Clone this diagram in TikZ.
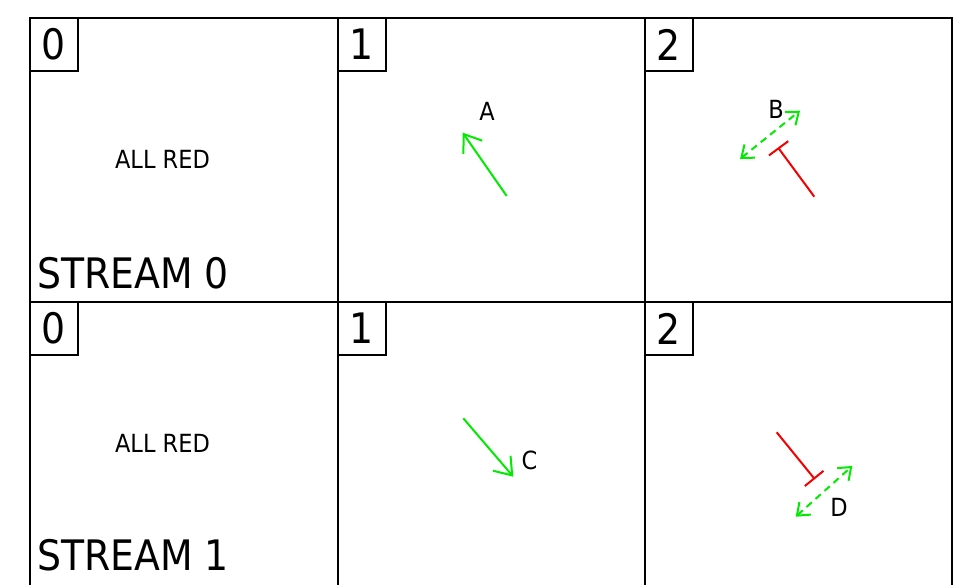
\documentclass[tikz,border=0pt]{standalone}
\usepackage{fontspec}
\setmainfont{DejaVu Sans}[FakeStretch=0.9]
\usetikzlibrary{arrows.meta}
\definecolor{sigG}{RGB}{0,235,0}
\definecolor{sigR}{RGB}{245,0,0}
\begin{document}
\begin{tikzpicture}[x=1pt,y=-1pt,
  cellbox/.style={draw,line width=2.3pt,minimum height=284pt,anchor=north west,inner sep=0pt,outer sep=0pt},
  numbox/.style={draw,line width=1.8pt,minimum width=48pt,minimum height=53pt,anchor=north west,inner sep=0pt,outer sep=0pt,font=\fontsize{42}{42}\selectfont},
  streamlbl/.style={anchor=base west,inner sep=0pt,font=\fontsize{42}{42}\selectfont},
  allred/.style={inner sep=0pt,font=\fontsize{25}{25}\selectfont},
  letter/.style={inner sep=0pt,font=\fontsize{25}{25}\selectfont},
  gomove/.style={draw=sigG,line width=2pt,-{Straight Barb[length=16pt,width=23pt,line width=2pt]}},
  permove/.style={draw=sigG,line width=2pt,dash pattern=on 7pt off 5pt,
     {Straight Barb[length=11pt,width=17pt,line width=2pt]}-{Straight Barb[length=11pt,width=17pt,line width=2pt]}},
  stopmove/.style={draw=sigR,line width=2pt,-{Bar[width=24pt,line width=2pt]}}
]
\useasboundingbox (0,0) rectangle (955,585);
% cells
\node[cellbox,minimum width=308pt] (c00) at (30,18) {};
\node[cellbox,minimum width=307pt] (c01) at (338,18) {};
\node[cellbox,minimum width=307pt] (c02) at (645,18) {};
\node[cellbox,minimum width=308pt] (c10) at (30,302) {};
\node[cellbox,minimum width=307pt] (c11) at (338,302) {};
\node[cellbox,minimum width=307pt] (c12) at (645,302) {};
% number boxes
\node[numbox] (n00) at (30,18) {0};
\node[numbox] (n01) at (338,18) {1};
\node[numbox] (n02) at (645,18) {2};
\node[numbox] (n10) at (30,302) {0};
\node[numbox] (n11) at (338,302) {1};
\node[numbox] (n12) at (645,302) {2};
% texts
\node[allred] (ar0) at (162.5,159.5) {ALL RED};
\node[allred] (ar1) at (162.5,443.5) {ALL RED};
\node[streamlbl] (s0) at (37,288) {STREAM 0};
\node[streamlbl] (s1) at (37,570) {STREAM 1};
% phase 1, stream 0
\coordinate (a1) at (506.7,196);
\coordinate (a2) at (462.7,132.7);
\draw[gomove] (a1) -- (a2);
\node[letter] (la) at (487,111) {A};
% phase 2, stream 0
\coordinate (b1) at (740,159);
\coordinate (b2) at (800,110.7);
\draw[permove] (b1) -- (b2);
\node[letter] (lb) at (776,109) {B};
\coordinate (r1) at (814.3,196.7);
\coordinate (r2) at (778,147.5);
\draw[stopmove] (r1) -- (r2);
% phase 1, stream 1
\coordinate (c1) at (463.3,418.3);
\coordinate (c2) at (513.3,476.7);
\draw[gomove] (c1) -- (c2);
\node[letter] (lc) at (529.5,460) {C};
% phase 2, stream 1
\coordinate (r3) at (776.7,432.3);
\coordinate (r4) at (814.8,479.2);
\draw[stopmove] (r3) -- (r4);
\coordinate (d1) at (795.7,516.7);
\coordinate (d2) at (852.3,466);
\draw[permove] (d1) -- (d2);
\node[letter] (ld) at (839,507.5) {D};
\end{tikzpicture}
\end{document}
